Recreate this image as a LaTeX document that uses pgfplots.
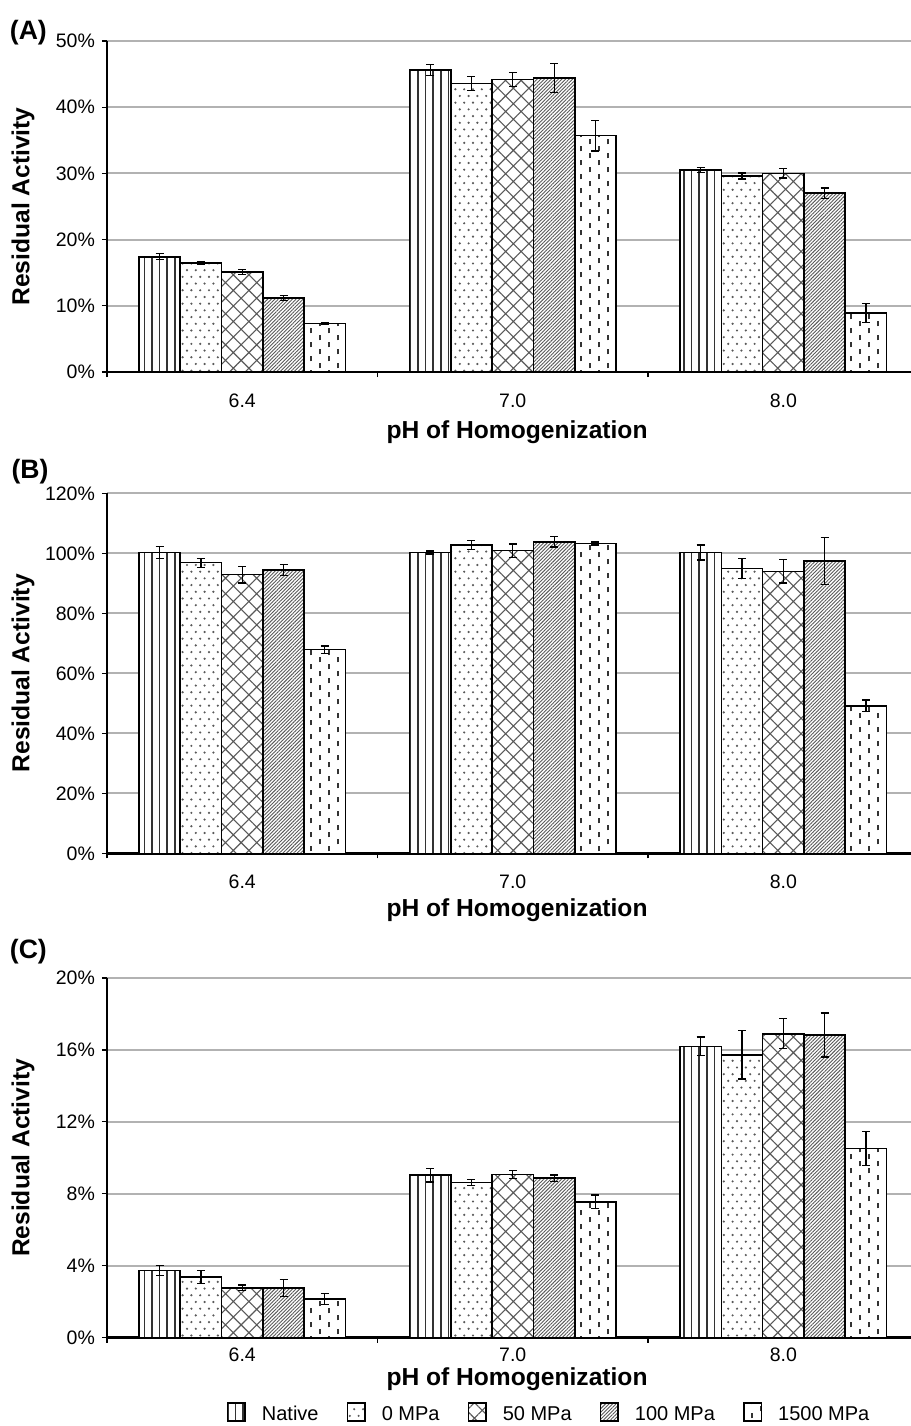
\documentclass[border=0pt]{standalone}
\usepackage{pgfplots}
\pgfplotsset{compat=1.18}
\usepackage{fontspec}
\setmainfont{Liberation Sans}
\usetikzlibrary{patterns,patterns.meta}

\pgfdeclarepatternformonly{dashcols}{\pgfpoint{-0.5pt}{-0.5pt}}{\pgfpoint{9.5pt}{7.5pt}}{\pgfpoint{9pt}{7pt}}{%
  \pgfsetlinewidth{1.05pt}%
  \pgfpathmoveto{\pgfpoint{2.5pt}{0.3pt}}\pgfpathlineto{\pgfpoint{2.5pt}{3.2pt}}%
  \pgfpathmoveto{\pgfpoint{7pt}{3.8pt}}\pgfpathlineto{\pgfpoint{7pt}{6.7pt}}%
  \pgfusepath{stroke}}
\pgfdeclarepatternformonly{sdots}{\pgfpoint{-0.5pt}{-0.5pt}}{\pgfpoint{4.9pt}{7.2pt}}{\pgfpoint{4.4pt}{6.7pt}}{%
  \pgfpathcircle{\pgfpoint{1.1pt}{1.7pt}}{0.6pt}%
  \pgfpathcircle{\pgfpoint{3.3pt}{5.05pt}}{0.6pt}%
  \pgfusepath{fill}}

\pgfplotsset{
  s1/.style={draw=black, line width=0.8pt, fill=white, postaction={pattern={Lines[angle=90,distance=3.8pt,line width=0.75pt]}, pattern color=black!80}},
  s2/.style={draw=black, line width=0.8pt, fill=white, postaction={pattern=sdots, pattern color=black!65}},
  s3/.style={draw=black, line width=0.8pt, fill=white, postaction={pattern={Hatch[angle=45,distance=5.5pt,line width=0.55pt]}, pattern color=black!65}},
  s4/.style={draw=black, line width=0.8pt, fill=white, postaction={pattern={Lines[angle=45,distance=1.25pt,line width=0.45pt]}, pattern color=black!65}},
  s5/.style={draw=black, line width=0.8pt, fill=white, postaction={pattern=dashcols, pattern color=black!80}},
  eb/.style={error bars/.cd, y dir=both, y explicit,
     error bar style={black, line width=0.6pt},
     error mark options={rotate=90, black, line width=0.6pt, mark size=2pt}},
  panel/.style={
    scale only axis, width=402pt,
    xmin=-0.5, xmax=2.472, ymin=0, enlarge x limits=false, enlarge y limits=false,
    ybar=0pt, bar width=0.1527,
    axis x line=bottom, axis y line=left,
    x axis line style={-, line width=1.25pt, black},
    y axis line style={-, line width=0.75pt, black},
    tick align=outside, major tick length=2.5pt,
    ytick style={black, line width=0.6pt},
    xtick={0,1,2}, xticklabels={6.4,7.0,8.0},
    xtick style={draw=none},
    extra x ticks={-0.5,0.5,1.5}, extra x tick labels={},
    extra x tick style={grid=none, xtick style={draw=black, line width=0.6pt}},
    ymajorgrids, major grid style={black!30, line width=1pt},
    yticklabel={\pgfmathprintnumber{\tick}\%},
    /pgf/number format/assume math mode=true,
    tick label style={font=\fontsize{9.75}{11}\selectfont},
    xticklabel style={anchor=base, yshift=-15pt},
    xlabel={pH of Homogenization},
    xlabel style={font=\fontsize{12.3}{14}\selectfont\bfseries, at={(axis description cs:0.51,0)}, anchor=base, yshift=-33.25pt},
    ylabel={Residual Activity},
    ylabel style={font=\fontsize{12.3}{14}\selectfont\bfseries, at={(axis description cs:-0.1045,0.5)}, anchor=center},
    legend image code/.code={\draw[#1] (0pt,-2.9pt) rectangle (8.8pt,6.1pt);},
  },
}

\begin{document}
\begin{tikzpicture}
\useasboundingbox (0,0) rectangle (455.5pt,-713pt);

% ---------------- Panel A ----------------
\begin{axis}[panel, at={(53.5pt,-186pt)}, anchor=south west, height=165.5pt,
  ymax=50, ytick={0,10,...,50}]
\addplot[s1, eb] table[x=x, y=y, y error=e] {
x y e
0 17.4 0.45
1 45.6 0.8
2 30.5 0.35
};
\addplot[s2, eb] table[x=x, y=y, y error=e] {
x y e
0 16.5 0.2
1 43.6 1.1
2 29.6 0.45
};
\addplot[s3, eb] table[x=x, y=y, y error=e] {
x y e
0 15.1 0.4
1 44.2 1.1
2 30.0 0.7
};
\addplot[s4, eb] table[x=x, y=y, y error=e] {
x y e
0 11.2 0.35
1 44.4 2.2
2 27.0 0.8
};
\addplot[s5, eb] table[x=x, y=y, y error=e] {
x y e
0 7.3 0.15
1 35.7 2.3
2 8.9 1.4
};
\end{axis}

% ---------------- Panel B ----------------
\begin{axis}[panel, at={(53.5pt,-426.65pt)}, anchor=south west, height=180pt,
  ymax=120, ytick={0,20,...,120}, xlabel style={yshift=1.75pt}]
\addplot[s1, eb] table[x=x, y=y, y error=e] {
x y e
0 100.3 2.0
1 100.3 0.5
2 100.3 2.5
};
\addplot[s2, eb] table[x=x, y=y, y error=e] {
x y e
0 96.9 1.5
1 102.8 1.5
2 95.0 3.4
};
\addplot[s3, eb] table[x=x, y=y, y error=e] {
x y e
0 92.9 2.8
1 100.9 2.2
2 94.0 3.9
};
\addplot[s4, eb] table[x=x, y=y, y error=e] {
x y e
0 94.4 1.9
1 103.8 1.7
2 97.4 7.8
};
\addplot[s5, eb] table[x=x, y=y, y error=e] {
x y e
0 67.9 1.2
1 103.3 0.5
2 49.2 1.9
};
\end{axis}

% ---------------- Panel C ----------------
\begin{axis}[panel, at={(53.5pt,-668.85pt)}, anchor=south west, height=179.85pt,
  ymax=20, ytick={0,4,...,20},
  xticklabel style={yshift=5.5pt},
  xlabel style={yshift=9.35pt},
  legend columns=5,
  legend style={draw=none, fill=none, at={(axis description cs:0.551,-0.2149)}, anchor=center,
     font=\fontsize{10}{11}\selectfont,
     /tikz/every odd column/.append style={column sep=6pt},
     /tikz/every even column/.append style={column sep=12pt}}]
\addplot[s1, eb] table[x=x, y=y, y error=e] {
x y e
0 3.73 0.29
1 9.04 0.38
2 16.2 0.52
};
\addplot[s2, eb] table[x=x, y=y, y error=e] {
x y e
0 3.39 0.36
1 8.63 0.15
2 15.73 1.34
};
\addplot[s3, eb] table[x=x, y=y, y error=e] {
x y e
0 2.78 0.15
1 9.07 0.22
2 16.9 0.83
};
\addplot[s4, eb] table[x=x, y=y, y error=e] {
x y e
0 2.75 0.48
1 8.87 0.18
2 16.83 1.22
};
\addplot[s5, eb] table[x=x, y=y, y error=e] {
x y e
0 2.14 0.3
1 7.55 0.38
2 10.52 0.93
};
\legend{Native, 0 MPa, 50 MPa, 100 MPa, 1500 MPa}
\end{axis}

\node[font=\fontsize{13.3}{15}\selectfont\bfseries] at (14.2pt,-16.5pt) {(A)};
\node[font=\fontsize{13.3}{15}\selectfont\bfseries] at (15pt,-236pt) {(B)};
\node[font=\fontsize{13.3}{15}\selectfont\bfseries] at (14.2pt,-476pt) {(C)};
\end{tikzpicture}
\end{document}
